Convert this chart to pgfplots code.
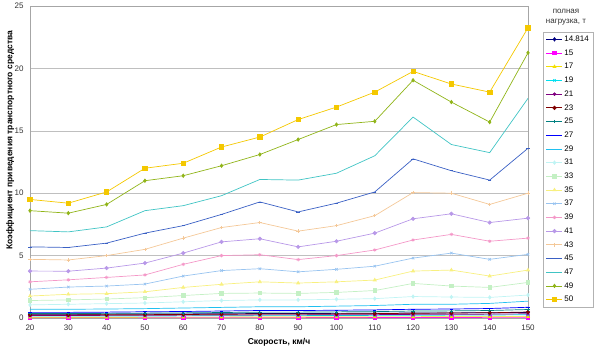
\documentclass[border=0pt]{standalone}
\usepackage{pgfplots}
\pgfplotsset{compat=1.18}
\usepackage{fontspec}
\setmainfont{Liberation Sans}
\definecolor{c14}{HTML}{000080}
\definecolor{c15}{HTML}{FF00FF}
\definecolor{c17}{HTML}{F5E000}
\definecolor{c19}{HTML}{00E0F0}
\definecolor{c21}{HTML}{800080}
\definecolor{c23}{HTML}{800000}
\definecolor{c25}{HTML}{008080}
\definecolor{c27}{HTML}{0000FF}
\definecolor{c29}{HTML}{20C0F0}
\definecolor{c31}{HTML}{C0F4F4}
\definecolor{c33}{HTML}{C4F0C4}
\definecolor{c35}{HTML}{F8F080}
\definecolor{c37}{HTML}{99C4F0}
\definecolor{c39}{HTML}{F498C8}
\definecolor{c41}{HTML}{B898E8}
\definecolor{c43}{HTML}{F4C898}
\definecolor{c45}{HTML}{3A60C4}
\definecolor{c47}{HTML}{40C4C4}
\definecolor{c49}{HTML}{90B418}
\definecolor{c50}{HTML}{F4C800}
\begin{document}
\begin{tikzpicture}
\useasboundingbox (-30pt,-33pt) rectangle (573pt,318pt);
\begin{axis}[
  at={(0pt,0pt)}, anchor=south west,
  scale only axis, width=498pt, height=312pt,
  xmin=20, xmax=150, ymin=0, ymax=25,
  xtick={20,30,...,150}, ytick={0,5,...,25},
  axis line style={draw=gray!70},
  tick style={draw=none},
  ymajorgrids, grid style={draw=gray!50, line width=0.6pt},
  /pgf/number format/assume math mode=true,
  tick label style={font=\fontsize{8}{9}\selectfont, text=black!80},
  xticklabel style={yshift=-3pt},
  yticklabel style={xshift=-3pt},
  xlabel={Скорость, км/ч},
  ylabel={Коэффициент приведения транспортного средства},
  label style={font=\bfseries\fontsize{8.5}{9}\selectfont},
  xlabel style={at={(axis description cs:0.5,-0.077)}, anchor=center},
  ylabel style={at={(axis description cs:-0.04,0.57)}, anchor=center},
  every axis plot/.append style={line width=0.7pt, mark size=1.7pt},
  legend style={at={(1.03,0.917)}, anchor=north west, draw=gray!60,
    font=\fontsize{8}{9}\selectfont, row sep=3.2pt,
    nodes={inner sep=1.5pt, text height=6pt, text depth=1.5pt},
    /tikz/every even column/.append style={column sep=1pt}},
  legend cell align=left,
  legend image code/.code={\draw[mark repeat=2,mark phase=2] plot coordinates {(0pt,0pt) (8pt,0pt) (16pt,0pt)};},
]
\addplot[c14, mark=diamond*] coordinates {(20,0.30)(30,0.30)(40,0.31)(50,0.32)(60,0.33)(70,0.34)(80,0.36)(90,0.36)(100,0.37)(110,0.38)(120,0.40)(130,0.41)(140,0.42)(150,0.45)};
\addlegendentry{14.814}
\addplot[c15, mark=square*] coordinates {(20,0.02)(30,0.02)(40,0.02)(50,0.03)(60,0.03)(70,0.03)(80,0.03)(90,0.03)(100,0.04)(110,0.04)(120,0.04)(130,0.04)(140,0.05)(150,0.05)};
\addlegendentry{15}
\addplot[c17, mark=triangle*] coordinates {(20,0.06)(30,0.06)(40,0.06)(50,0.07)(60,0.07)(70,0.07)(80,0.08)(90,0.08)(100,0.08)(110,0.09)(120,0.09)(130,0.10)(140,0.10)(150,0.11)};
\addlegendentry{17}
\addplot[c19, mark=x] coordinates {(20,0.15)(30,0.15)(40,0.16)(50,0.16)(60,0.17)(70,0.18)(80,0.19)(90,0.19)(100,0.20)(110,0.21)(120,0.22)(130,0.23)(140,0.24)(150,0.26)};
\addlegendentry{19}
\addplot[c21, mark=asterisk] coordinates {(20,0.20)(30,0.20)(40,0.21)(50,0.22)(60,0.23)(70,0.24)(80,0.25)(90,0.25)(100,0.26)(110,0.27)(120,0.29)(130,0.30)(140,0.31)(150,0.34)};
\addlegendentry{21}
\addplot[c23, mark=*] coordinates {(20,0.25)(30,0.25)(40,0.26)(50,0.27)(60,0.28)(70,0.30)(80,0.32)(90,0.32)(100,0.33)(110,0.35)(120,0.38)(130,0.40)(140,0.42)(150,0.48)};
\addlegendentry{23}
\addplot[c25, mark=+] coordinates {(20,0.36)(30,0.36)(40,0.37)(50,0.39)(60,0.41)(70,0.44)(80,0.47)(90,0.47)(100,0.49)(110,0.51)(120,0.56)(130,0.57)(140,0.60)(150,0.68)};
\addlegendentry{25}
\addplot[c27, mark=-] coordinates {(20,0.45)(30,0.45)(40,0.47)(50,0.50)(60,0.52)(70,0.56)(80,0.60)(90,0.60)(100,0.62)(110,0.65)(120,0.70)(130,0.72)(140,0.76)(150,0.86)};
\addlegendentry{27}
\addplot[c29] coordinates {(20,0.70)(30,0.70)(40,0.72)(50,0.75)(60,0.80)(70,0.85)(80,0.90)(90,0.90)(100,0.95)(110,1.00)(120,1.10)(130,1.10)(140,1.17)(150,1.35)};
\addlegendentry{29}
\addplot[c31, mark=diamond*] coordinates {(20,1.05)(30,1.10)(40,1.15)(50,1.20)(60,1.30)(70,1.40)(80,1.45)(90,1.45)(100,1.50)(110,1.55)(120,1.72)(130,1.68)(140,1.65)(150,1.84)};
\addlegendentry{31}
\addplot[c33, mark=square*] coordinates {(20,1.40)(30,1.45)(40,1.52)(50,1.63)(60,1.80)(70,1.97)(80,2.00)(90,1.97)(100,2.05)(110,2.20)(120,2.77)(130,2.56)(140,2.45)(150,2.85)};
\addlegendentry{33}
\addplot[c35, mark=triangle*] coordinates {(20,1.76)(30,1.90)(40,1.95)(50,2.10)(60,2.45)(70,2.70)(80,2.90)(90,2.80)(100,2.90)(110,3.04)(120,3.76)(130,3.84)(140,3.36)(150,3.84)};
\addlegendentry{35}
\addplot[c37, mark=x] coordinates {(20,2.30)(30,2.48)(40,2.56)(50,2.72)(60,3.36)(70,3.80)(80,3.95)(90,3.70)(100,3.90)(110,4.15)(120,4.80)(130,5.20)(140,4.70)(150,5.10)};
\addlegendentry{37}
\addplot[c39, mark=asterisk] coordinates {(20,2.90)(30,3.06)(40,3.25)(50,3.45)(60,4.30)(70,5.00)(80,5.07)(90,4.68)(100,5.00)(110,5.45)(120,6.25)(130,6.70)(140,6.15)(150,6.40)};
\addlegendentry{39}
\addplot[c41, mark=*] coordinates {(20,3.76)(30,3.75)(40,4.00)(50,4.40)(60,5.20)(70,6.10)(80,6.35)(90,5.70)(100,6.15)(110,6.80)(120,7.95)(130,8.35)(140,7.65)(150,8.00)};
\addlegendentry{41}
\addplot[c43, mark=+] coordinates {(20,4.70)(30,4.65)(40,5.00)(50,5.50)(60,6.40)(70,7.25)(80,7.65)(90,6.96)(100,7.40)(110,8.20)(120,10.05)(130,10.00)(140,9.10)(150,10.00)};
\addlegendentry{43}
\addplot[c45, mark=-] coordinates {(20,5.70)(30,5.65)(40,6.00)(50,6.80)(60,7.40)(70,8.30)(80,9.30)(90,8.50)(100,9.20)(110,10.10)(120,12.75)(130,11.80)(140,11.05)(150,13.60)};
\addlegendentry{45}
\addplot[c47] coordinates {(20,7.00)(30,6.90)(40,7.30)(50,8.60)(60,9.00)(70,9.80)(80,11.10)(90,11.05)(100,11.60)(110,13.00)(120,16.10)(130,13.90)(140,13.25)(150,17.60)};
\addlegendentry{47}
\addplot[c49, mark=diamond*] coordinates {(20,8.60)(30,8.40)(40,9.10)(50,11.00)(60,11.40)(70,12.20)(80,13.10)(90,14.30)(100,15.50)(110,15.76)(120,19.05)(130,17.30)(140,15.70)(150,21.25)};
\addlegendentry{49}
\addplot[c50, mark=square*, mark size=2.2pt] coordinates {(20,9.50)(30,9.20)(40,10.10)(50,12.00)(60,12.40)(70,13.70)(80,14.50)(90,15.90)(100,16.90)(110,18.10)(120,19.76)(130,18.75)(140,18.10)(150,23.25)};
\addlegendentry{50}
\end{axis}
\node[align=center, font=\fontsize{8}{10}\selectfont, text=black!80] at (536pt,301pt) {полная\\нагрузка, т};
\end{tikzpicture}
\end{document}
